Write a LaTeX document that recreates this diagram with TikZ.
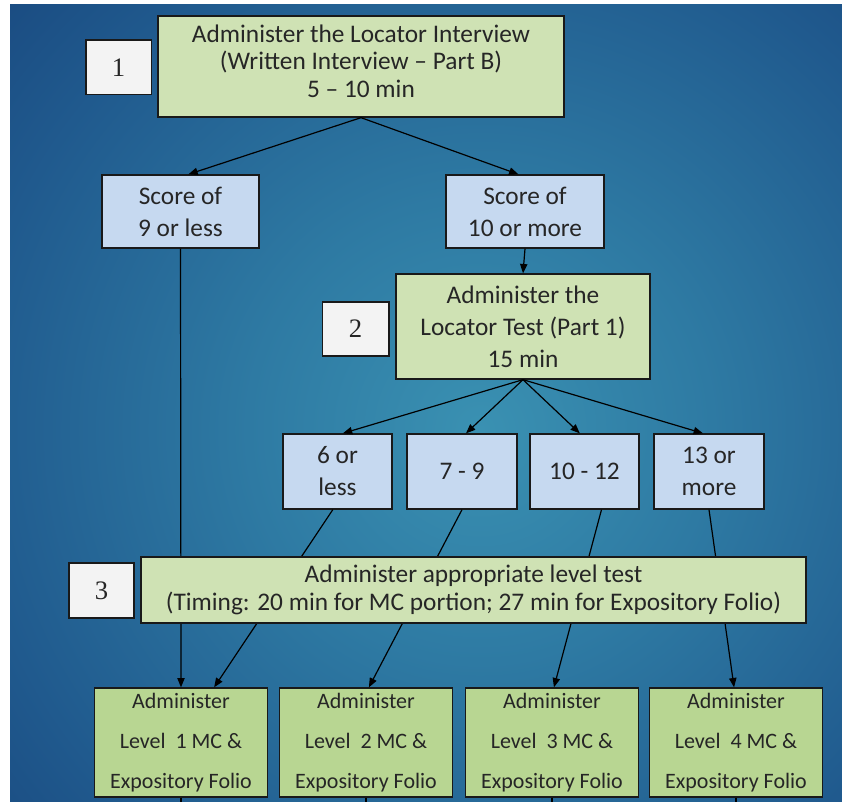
\documentclass[tikz,border=0pt]{standalone}
\usepackage{fontspec}
\setmainfont{Carlito}
\newfontfamily\numfont{Liberation Serif}
\usetikzlibrary{arrows.meta}
\definecolor{stepgreen}{RGB}{207,226,180}
\definecolor{levelgreen}{RGB}{184,214,146}
\definecolor{scoreblue}{RGB}{198,217,240}
\definecolor{numwhite}{RGB}{243,243,243}
\definecolor{boxline}{RGB}{25,25,25}
\definecolor{bgA}{RGB}{58,145,178}
\definecolor{bgB}{RGB}{46,122,163}
\definecolor{bgC}{RGB}{32,90,142}
\definecolor{bgD}{RGB}{20,60,116}
\definecolor{bgE}{RGB}{10,36,90}
\pgfdeclareradialshading{bgglow}{\pgfpoint{0bp}{0bp}}{color(0bp)=(bgA); color(10bp)=(bgB); color(22bp)=(bgC); color(34bp)=(bgD); color(50bp)=(bgE)}
\tikzstyle{box}=[draw=boxline, line width=1pt, inner sep=0pt, align=center, text=black!85]
\tikzstyle{box-step}=[box, fill=stepgreen]
\tikzstyle{box-score}=[box, fill=scoreblue, font=\fontsize{19}{24}\selectfont]
\tikzstyle{box-level}=[box, fill=levelgreen, minimum width=130pt, minimum height=81.75pt, font=\fontsize{16.5}{30}\selectfont]
\tikzstyle{box-num}=[box, fill=numwhite, minimum width=49pt, minimum height=41pt, font=\numfont\fontsize{20}{22}\selectfont]
\tikzstyle{link}=[-{Triangle[length=7pt,width=5.5pt]}, line width=0.9pt, black]

\begin{document}
\begin{tikzpicture}[x=0.75pt, y=-0.75pt]
	\useasboundingbox (0,0) rectangle (842,802);
	\begin{scope}
	  \clip (10,5) rectangle (842,802);
	  \shade [shading=bgglow] (-100,-150) rectangle (1060,1010);
	\end{scope}
	\coordinate (bottom) at (0,802);

	% nodes
	 \node [box-step, minimum width=304.5pt, minimum height=75.75pt, text depth=8pt, font=\fontsize{19}{20.5}\selectfont] (interview) at (361,66.5) {Administer the Locator Interview\\(Written Interview -- Part B)\\5 -- 10 min};
	 \node [box-num] (n1) at (118.5,67.5) {1};

	 \node [box-score, minimum width=117.75pt, minimum height=54.75pt] (low) at (180.5,211.5) {Score of\\9 or less};
	 \node [box-score, minimum width=118.5pt, minimum height=54.75pt] (high) at (525,211.5) {Score of\\10 or more};

	 \node [box-step, minimum width=190.5pt, minimum height=78.75pt, font=\fontsize{19}{24}\selectfont] (locator) at (523,326.5) {Administer the\\Locator Test (Part 1)\\15 min};
	 \node [box-num, minimum width=50pt, minimum height=40.5pt] (n2) at (355.5,329) {2};

	 \node [box-score, minimum width=81.75pt, minimum height=56.25pt] (sa) at (337.5,471.5) {6 or\\less};
	 \node [box-score, minimum width=82.5pt, minimum height=56.25pt] (sb) at (462,471.5) {7 - 9};
	 \node [box-score, minimum width=81.75pt, minimum height=56.25pt] (sc) at (584.5,471.5) {10 - 12};
	 \node [box-score, minimum width=82.5pt, minimum height=56.25pt] (sd) at (709,471.5) {13 or\\more};

	 \node [box-level] (lv1) at (181,742.5) {Administer\\Level~ 1 MC \&\\Expository Folio};
	 \node [box-level] (lv2) at (366,742.5) {Administer\\Level~ 2 MC \&\\Expository Folio};
	 \node [box-level] (lv3) at (552,742.5) {Administer\\Level~ 3 MC \&\\Expository Folio};
	 \node [box-level] (lv4) at (736,742.5) {Administer\\Level~ 4 MC \&\\Expository Folio};

	 % arrows
	 \draw [link] (interview.south) -- (low.78);
	 \draw [link] (interview.south) -- (high.100);
	 \draw [link] (high.south) -- (locator.north);
	 \draw [link] (locator.south) -- (sa.82);
	 \draw [link] (locator.south) -- (sb.84);
	 \draw [link] (locator.south) -- (sc.97);
	 \draw [link] (locator.south) -- (sd.99);

	 \draw [link] (low.south) -- (lv1.north);
	 \draw [link] (sa.263) -- (lv1.59);
	 \draw [link] (sb.south) -- (lv2.87);
	 \draw [link] (sc.294) -- (lv3.88);
	 \draw [link] (sd.south) -- (lv4.92);

	 \foreach \lv in {lv1,lv2,lv3,lv4}
	   \draw [line width=0.9pt] (\lv.south) -- (\lv.south |- bottom);

	 % step 3 sits over the links
	 \node [box-step, minimum width=498.75pt, minimum height=49.5pt, font=\fontsize{19}{21}\selectfont] (leveltest) at (473.5,590) {Administer appropriate level test\\(Timing: 20 min for MC portion; 27 min for Expository Folio)};
	 \node [box-num, minimum width=48.75pt, minimum height=41.25pt] (n3) at (101.5,590.5) {3};
\end{tikzpicture}
\end{document}
